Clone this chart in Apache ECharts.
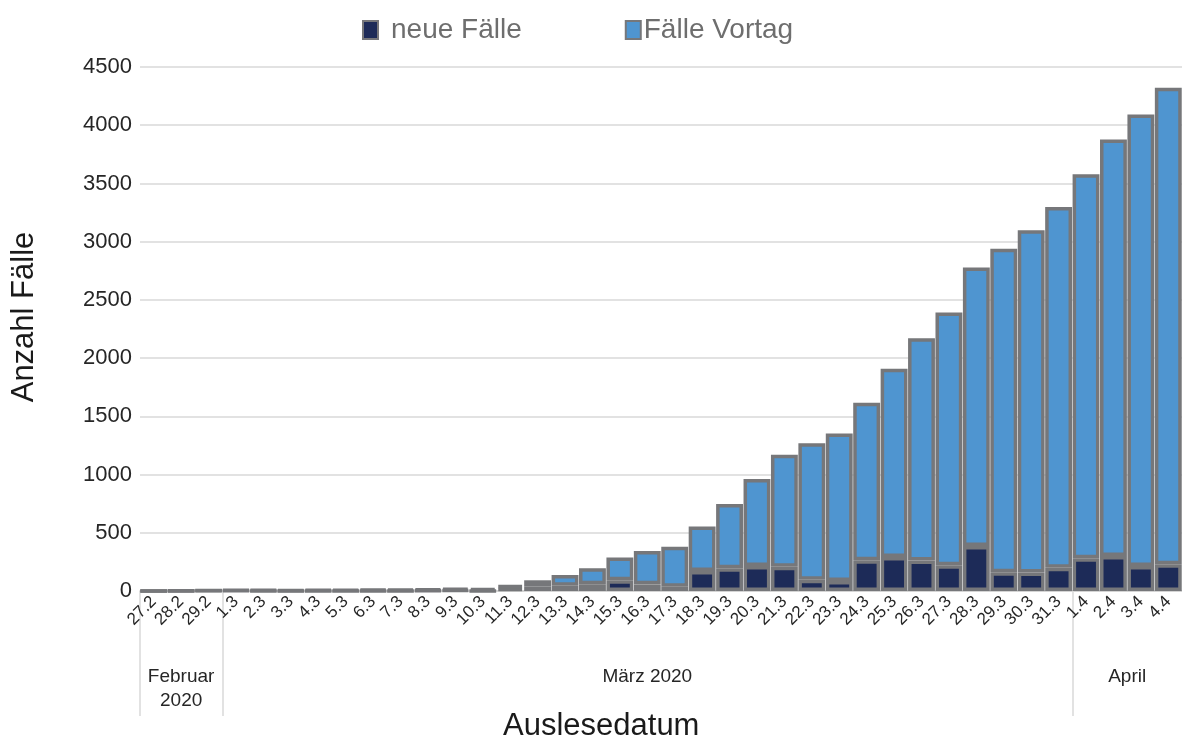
<!DOCTYPE html>
<html>
<head>
<meta charset="utf-8">
<script src="https://cdn.jsdelivr.net/npm/echarts@6/dist/echarts.min.js"></script>
<style>
  html, body { margin: 0; padding: 0; background: #fff; }
  #chart { width: 1182px; height: 742px; }
</style>
</head>
<body>
<div id="chart"></div>
<script>
// Auslesedatum (reading date)
const dates = ['27.2', '28.2', '29.2',
  '1.3', '2.3', '3.3', '4.3', '5.3', '6.3', '7.3', '8.3', '9.3', '10.3',
  '11.3', '12.3', '13.3', '14.3', '15.3', '16.3', '17.3', '18.3', '19.3', '20.3',
  '21.3', '22.3', '23.3', '24.3', '25.3', '26.3', '27.3', '28.3', '29.3', '30.3', '31.3',
  '1.4', '2.4', '3.4', '4.4']

// new cases of the day (dark, bottom)
const neueFaelle = [1, 1, 3,
  3, 2, 0, 2, 0, 2, 1, 3, 7, 1,
  26, 40, 45, 58, 92, 57, 37, 172, 195, 214,
  209, 97, 85, 264, 291, 262, 222, 386, 162, 158, 199,
  281, 300, 214, 229]

// cases of the previous day (blue, on top)
const faelleVortag = [0, 1, 2,
  5, 8, 10, 10, 12, 12, 14, 15, 18, 25,
  26, 52, 92, 137, 195, 287, 344, 381, 553, 748,
  962, 1171, 1268, 1353, 1617, 1908, 2170, 2392, 2778, 2940, 3098,
  3297, 3578, 3878, 4092]

// month groups under the axis
const months = ['Februar\n2020', 'März 2020', 'April']
const monthDays = [3, 31, 4]

const yMin = 0
const yMax = 4500
const yStep = 500

// boundaries and centres of the month groups, in category units
let monthStarts = []
let monthCenters = []
let acc = 0
for (let i = 0; i < monthDays.length; i++) {
  monthStarts.push(acc)
  monthCenters.push(acc + monthDays[i] / 2)
  acc += monthDays[i]
}

const font = 'Liberation Sans, Arial, sans-serif'
const borderGrey = '#76777a'

let myChart = echarts.init(document.getElementById('chart'))
let option = {
  animation: false,
  textStyle: { fontFamily: font },
  legend: {
    left: 357,
    top: 11,
    itemWidth: 15,
    itemHeight: 18,
    itemGap: 103,
    icon: 'rect',
    textStyle: { fontSize: 28, color: '#6e6e6e', fontFamily: font },
    data: [
      { name: 'neue Fälle', textStyle: { padding: [0, 0, 0, 8] } },
      { name: 'Fälle Vortag', textStyle: { padding: [0, 0, 0, -2] } }
    ]
  },
  grid: {
    left: 140,
    right: -5,
    top: 67,
    bottom: 151
  },
  xAxis: [
    {
      type: 'category',
      data: dates,
      axisLine: { lineStyle: { color: '#cfcfcf', width: 1.5 } },
      axisTick: { show: false },
      axisLabel: {
        interval: 0,
        rotate: 45,
        margin: 8,
        fontSize: 17,
        color: '#262626',
        fontFamily: font
      }
    },
    {
      // month grouping row
      type: 'value',
      position: 'bottom',
      min: 0,
      max: dates.length,
      axisLine: { show: false },
      splitLine: { show: false },
      axisTick: {
        show: true,
        customValues: monthStarts,
        length: 125,
        lineStyle: { color: '#d9d9d9', width: 1.5 }
      },
      axisLabel: {
        customValues: monthCenters,
        margin: 74,
        fontSize: 19,
        lineHeight: 24,
        color: '#262626',
        fontFamily: font,
        formatter: function (v) {
          let idx = monthCenters.indexOf(v)
          return idx >= 0 ? months[idx] : ''
        }
      }
    }
  ],
  yAxis: {
    type: 'value',
    min: yMin,
    max: yMax,
    interval: yStep,
    name: 'Anzahl Fälle',
    nameLocation: 'middle',
    nameGap: 100,
    nameTextStyle: { fontSize: 31, color: '#1a1a1a', fontFamily: font, padding: [0, 0, 0, 24] },
    axisLine: { show: false },
    axisTick: { show: false },
    axisLabel: {
      fontSize: 22,
      color: '#262626',
      margin: 8,
      fontFamily: font,
      formatter: function (v) { return String(v) }
    },
    splitLine: { lineStyle: { color: '#d9d9d9', width: 1.5 } }
  },
  graphic: [
    {
      type: 'text',
      left: 503,
      top: 711,
      style: {
        text: 'Auslesedatum',
        font: '31px ' + font,
        fill: '#1a1a1a'
      }
    }
  ],
  series: [
    {
      name: 'neue Fälle',
      type: 'bar',
      stack: 'faelle',
      barCategoryGap: '2%',
      data: neueFaelle,
      itemStyle: { color: '#1d2b58', borderColor: borderGrey, borderWidth: 3.5 }
    },
    {
      name: 'Fälle Vortag',
      type: 'bar',
      stack: 'faelle',
      barCategoryGap: '2%',
      data: faelleVortag,
      itemStyle: { color: '#4f95d0', borderColor: borderGrey, borderWidth: 3.5 }
    }
  ]
}
myChart.setOption(option)
</script>
</body>
</html>
